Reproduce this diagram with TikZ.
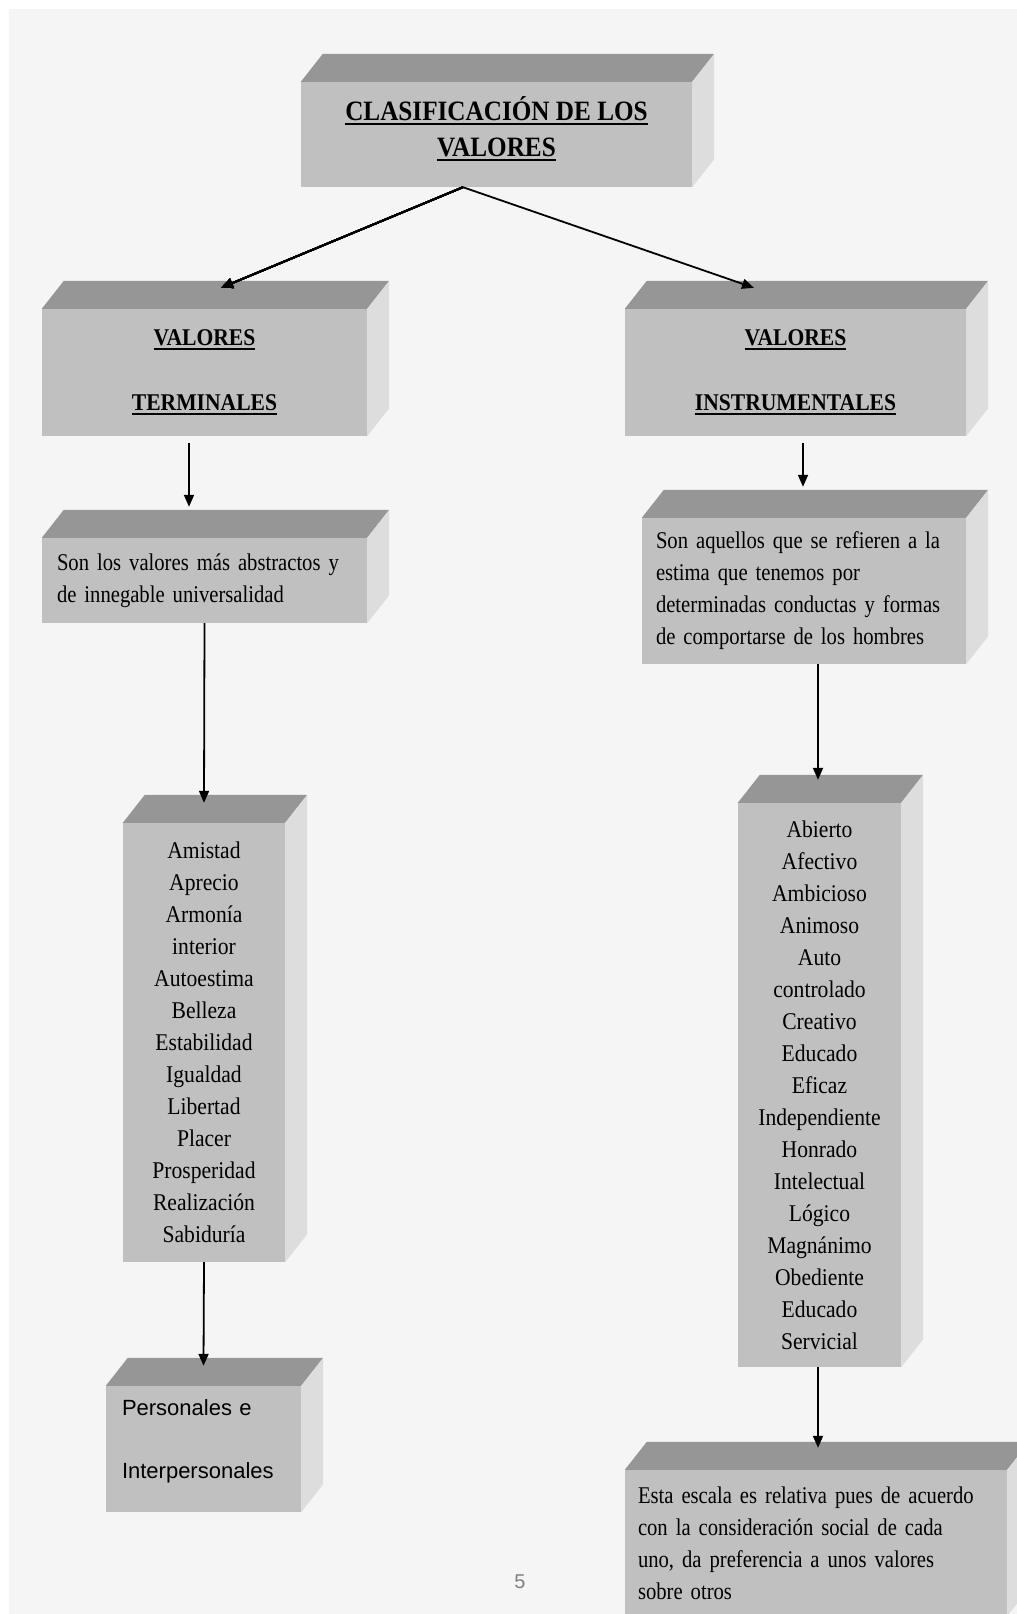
\documentclass[tikz,border=0pt]{standalone}
\usepackage{fontspec}
\newfontfamily\serifa[FakeStretch=0.9]{Liberation Serif}
\newfontfamily\serifp[FakeStretch=0.86]{Liberation Serif}
\newfontfamily\sansa{Liberation Sans}
\usepackage{tikz}
\usetikzlibrary{arrows.meta, positioning, calc}
\definecolor{fondogris}{HTML}{F5F5F5}
\definecolor{caragris}{HTML}{C0C0C0}
\definecolor{techogris}{HTML}{969696}
\definecolor{ladogris}{HTML}{DDDDDD}
\newcommand{\ajustes}{\spaceskip=4.6pt plus 1pt\relax\hyphenpenalty=10000\relax}
\tikzset{
	caja/.style={fill=caragris, inner sep=0pt, text=black}
}
\tikzset{
	cabecera/.style={caja, align=center, font=\serifa\bfseries\fontsize{24}{65}\selectfont}
}
\tikzset{
	lista/.style={caja, align=center, font=\serifa\fontsize{24}{32}\selectfont}
}
\tikzset{
	parrafo/.style={caja, align=left, inner xsep=14pt,
	  font=\serifp\fontsize{24}{32}\selectfont\ajustes}
}
\tikzset{
	flecha/.style={line width=1.8pt, -{Triangle[length=12pt,width=10pt]}}
}
\tikzset{
	numpag/.style={font=\sansa\fontsize{20}{24}\selectfont, text=gray}
}
\newcommand{\subr}[1]{\setbox0=\hbox{#1}\rlap{\rule[-5pt]{\wd0}{2pt}}\box0}
\newcommand{\caras}[1]{
  \fill[techogris] (#1.north west) -- ++(22,-28) -- ([shift={(22,-28)}]#1.north east) -- (#1.north east) -- cycle;
  \fill[ladogris] (#1.north east) -- ++(22,-28) -- ([shift={(22,-28)}]#1.south east) -- (#1.south east) -- cycle;
}

\begin{document}
\begin{tikzpicture}[x=1pt, y=-1pt]
      \useasboundingbox (0,0) rectangle (1017,1614);
      \clip (0,0) rectangle (1017,1614);
      \fill[fondogris] (9,9) rectangle (1017,1614);
      % cajas
      \node[cabecera, font=\serifa\bfseries\fontsize{28}{36}\selectfont, text depth=17pt, minimum width=391pt, minimum height=105pt] (titulo) at (496.5,134.5) {\subr{CLASIFICACIÓN DE LOS}\\\subr{VALORES}};
      \node[cabecera, minimum width=325pt, minimum height=127pt] (term) at (204.5,372.5) {\subr{VALORES}\\\subr{TERMINALES}};
      \node[cabecera, minimum width=341pt, minimum height=127pt] (inst) at (795.5,372.5) {\subr{VALORES}\\\subr{INSTRUMENTALES}};
      \node[parrafo, inner xsep=15pt, text width=295pt, minimum height=85pt] (termdesc) at (204.5,580.5) {Son los valores más abstractos y\\de innegable universalidad};
      \node[parrafo, text width=296pt, minimum height=146pt] (instdesc) at (804,591) {Son aquellos que se refieren a la\\estima que tenemos por\\determinadas conductas y formas\\de comportarse de los hombres};
      \node[lista, minimum width=162pt, minimum height=439pt] (termlist) at (204,1042.5) {Amistad\\Aprecio\\Armonía\\interior\\Autoestima\\Belleza\\Estabilidad\\Igualdad\\Libertad\\Placer\\Prosperidad\\Realización\\Sabiduría};
      \node[lista, minimum width=163pt, minimum height=564pt] (instlist) at (819.5,1085) {Abierto\\Afectivo\\Ambicioso\\Animoso\\Auto\\controlado\\Creativo\\Educado\\Eficaz\\Independiente\\Honrado\\Intelectual\\Lógico\\Magnánimo\\Obediente\\Educado\\Servicial};
      \node[caja, align=left, inner xsep=16pt, text width=163pt, minimum height=126pt, font=\sansa\fontsize{22}{63}\selectfont] (pers) at (203.5,1449) {Personales e\\Interpersonales\rule[-19pt]{0pt}{1pt}};
      \node[parrafo, inner xsep=13pt, text width=356pt, minimum height=146pt] (escala) at (816,1543) {Esta escala es relativa pues de acuerdo\\con la consideración social de cada\\uno, da preferencia a unos valores\\sobre otros};
      \foreach \n in {titulo,term,inst,termdesc,instdesc,termlist,instlist,pers,escala}
        \caras{\n}
      % flechas
      \draw[flecha] ([xshift=-33.5pt]titulo.south) -- ([xshift=16.5pt,yshift=21pt]term.north);
      \draw[flecha] ([xshift=-33.5pt]titulo.south) -- ([xshift=-41.5pt,yshift=21pt]inst.north);
      \draw[flecha] ([xshift=-15.5pt,yshift=-7pt]term.south) -- ([xshift=-15.5pt,yshift=31pt]termdesc.north);
      \draw[flecha] ([xshift=7.5pt,yshift=-7pt]inst.south) -- ([xshift=-1pt,yshift=31pt]instdesc.north);
      \draw[flecha] (termdesc.south) -- ([yshift=20pt]termlist.north);
      \draw[flecha] ([xshift=14pt]instdesc.south) -- ([xshift=-1.5pt,yshift=23pt]instlist.north);
      \draw[flecha] (termlist.south) -- ([yshift=20pt]pers.north);
      \draw[flecha] ([xshift=-1.5pt]instlist.south) -- ([xshift=2pt,yshift=22pt]escala.north);
      \node[numpag] (pagina) at (520,1582) {5};
    \end{tikzpicture}
\end{document}
